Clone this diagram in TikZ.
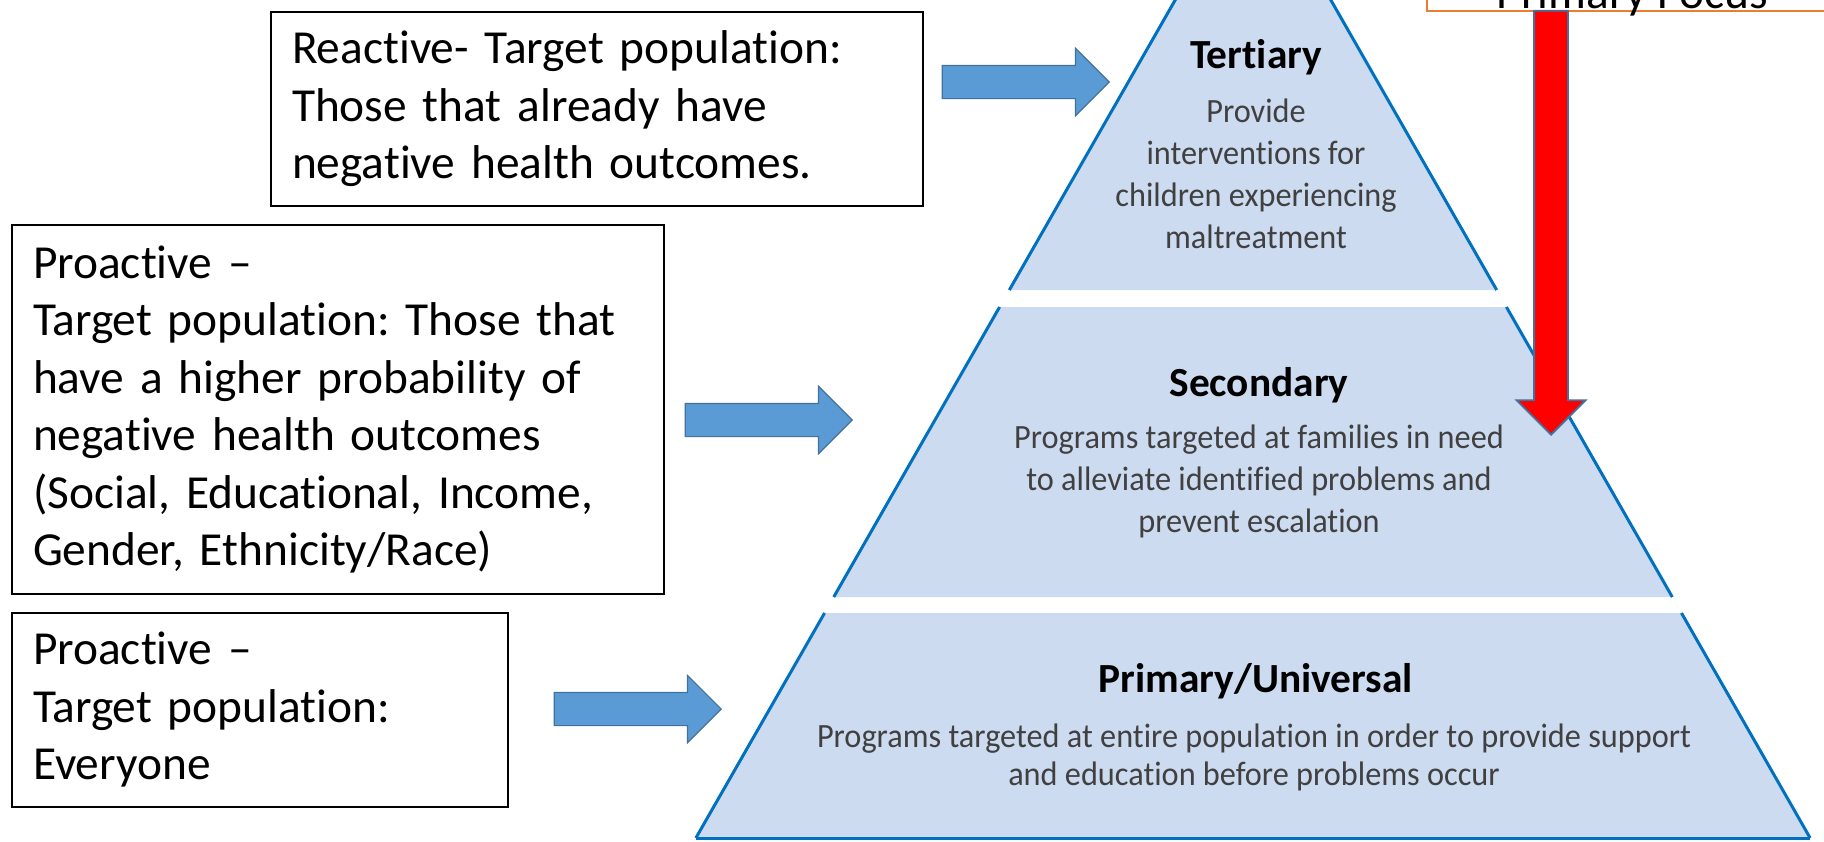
\documentclass[tikz,border=0pt]{standalone}
\usepackage{fontspec}
\setmainfont[Ligatures={TeX,NoCommon}]{Carlito}
\newfontfamily\pyrfont[FakeStretch=0.95,Ligatures=NoCommon]{Carlito}
\usetikzlibrary{shapes.arrows,calc}
\definecolor{pyrfill}{RGB}{205,219,240}
\definecolor{pyredge}{RGB}{0,112,192}
\definecolor{arrblue}{RGB}{91,155,213}
\definecolor{arrline}{RGB}{65,113,156}
\definecolor{focusline}{RGB}{237,125,49}
\definecolor{desctext}{RGB}{64,64,64}
\newcommand{\apexx}{1253}
\newcommand{\apexy}{-136}
\newcommand{\pyrslope}{0.572}
\frenchspacing

\tikzset{
    infobox/.style={draw=black, line width=1pt, anchor=north west, inner xsep=10.5pt, inner ysep=0pt,
        align=left, font=\fontsize{23.7}{28.75}\selectfont},
    blockarrow/.style={single arrow, draw=arrline, fill=arrblue, line width=0.6pt, inner sep=8pt,
        minimum height=83.5pt, single arrow head extend=8.5pt,
        single arrow tip angle=90, anchor=tip},
    tiertitle/.style={anchor=base, font=\fontsize{20.7}{24}\selectfont\bfseries},
    tierdesc/.style={anchor=base, text=desctext, font=\pyrfont\fontsize{17}{21}\selectfont},
    pyrside/.style={pyredge, line width=1.5pt}
}

\begin{document}
\begin{tikzpicture}[x=0.5pt, y=-0.5pt]

    \useasboundingbox (0,0) rectangle (1824,841);
    \clip (0,0) rectangle (1824,841);

%%%%        Pyramid
%corners
    \foreach \n/\t/\b in {ter/-136/290,sec/307/597,pri/613/838} {
        \coordinate (\n-tl) at ({\apexx-\pyrslope*(\t-\apexy)},\t);
        \coordinate (\n-tr) at ({\apexx+\pyrslope*(\t-\apexy)},\t);
        \coordinate (\n-bl) at ({\apexx-\pyrslope*(\b-\apexy)},\b);
        \coordinate (\n-br) at ({\apexx+\pyrslope*(\b-\apexy)},\b);
    }
%tiers
    \foreach \n in {ter,sec,pri} {
        \fill[pyrfill] (\n-tl) -- (\n-tr) -- (\n-br) -- (\n-bl) -- cycle;
        \draw[pyrside] (\n-tl) -- (\n-bl);
        \draw[pyrside] (\n-tr) -- (\n-br);
    }
    \draw[pyrside] (pri-bl) -- (pri-br);

%%%%        Tier texts
    \node[tiertitle] (tertitle) at (1256,68) {Tertiary};
    \node[tiertitle] (sectitle) at (1259,396) {Secondary};
    \node[tiertitle] (prititle) at (1256,692) {Primary/Universal};

    \foreach \txt [count=\i from 0] in {Provide,interventions for,children experiencing,maltreatment} {
        \node[tierdesc] (ter\i) at (1256,122+42*\i) {\txt};
    }
    \foreach \txt [count=\i from 0] in {Programs targeted at families in need,to alleviate identified problems and,prevent escalation} {
        \node[tierdesc] (sec\i) at (1259,448+42*\i) {\txt};
    }
    \foreach \txt [count=\i from 0] in {Programs targeted at entire population in order to provide support,and education before problems occur} {
        \node[tierdesc] (pri\i) at (1254,747+38*\i) {\txt};
    }

%%%%        Boxes
    \node[infobox, text width=305pt, minimum height=97pt] (react) at (270,11)
        {Reactive- Target population:\\Those that already have\\negative health outcomes.};
    \node[infobox, text width=305pt, minimum height=184.5pt] (proA) at (11,224)
        {Proactive –\\Target population: Those that\\have a higher probability of\\negative health outcomes\\(Social, Educational, Income,\\Gender, Ethnicity/Race)};
    \node[infobox, text width=227pt, minimum height=97pt] (proB) at (11,612)
        {Proactive –\\Target population:\\Everyone};

%%%%        Arrows
    \node[blockarrow] (arrT) at (1110,82) {};
    \node[blockarrow] (arrS) at (853,420) {};
    \node[blockarrow] (arrP) at (722,709) {};

%%%%        Primary focus
    \draw[focusline, line width=1pt] (1427,-60) rectangle (1880,11);
    \node[anchor=base, font=\fontsize{23.7}{28}\selectfont] (focus) at (1632,8) {Primary Focus};
    \node[single arrow, shape border rotate=270, draw=arrline, fill=red, line width=0.9pt, inner sep=8pt,
        minimum height=212pt, single arrow head extend=8.75pt,
        single arrow tip angle=90, anchor=tip] (down) at (1551,436) {};

\end{tikzpicture}
\end{document}
